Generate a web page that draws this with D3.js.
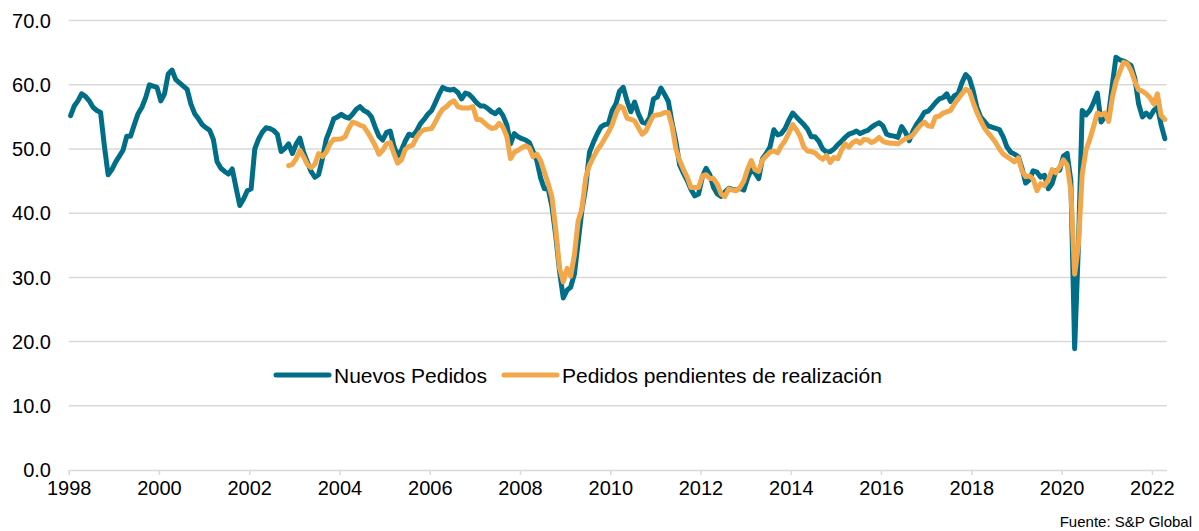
<!DOCTYPE html>
<html>
<head>
<meta charset="utf-8">
<script src="https://cdnjs.cloudflare.com/ajax/libs/d3/7.8.5/d3.min.js"></script>
<style>
  body { margin: 0; background: #fff; }
  svg { font-family: "Liberation Sans", Arial, sans-serif; }
</style>
</head>
<body>
<svg id="canvas" width="1199" height="531"></svg>
<script>
// monthly values, Jan 1998 - Apr 2022
let nuevosStart = new Date(1998, 0, 1);
let nuevosPedidos = [
  55.2, 56.7, 57.5, 58.6, 58.2, 57.5, 56.5, 56.0, 55.7, 50.5, 46.0, 46.8,
  48.0, 48.9, 49.8, 52.0, 52.0, 53.8, 55.5, 56.5, 58.0, 60.0, 59.8, 59.6,
  57.5, 58.6, 61.7, 62.3, 60.8, 60.3, 59.8, 59.3, 57.0, 55.5, 54.7, 53.8,
  53.3, 52.9, 51.5, 48.0, 47.0, 46.5, 46.1, 46.9, 44.0, 41.2, 42.2, 43.5,
  43.8, 50.0, 51.5, 52.6, 53.3, 53.2, 52.9, 52.3, 49.6, 50.1, 50.8, 49.3,
  50.8, 51.7, 49.5, 48.0, 46.5, 45.6, 46.0, 48.5, 51.5, 53.0, 54.7, 55.0,
  55.4, 55.0, 54.8, 55.4, 56.2, 56.6, 56.0, 55.7, 55.0, 53.4, 52.0, 51.4,
  52.6, 52.8, 50.5, 48.9, 49.8, 51.2, 52.3, 52.1, 52.8, 53.9, 54.6, 55.4,
  56.0, 57.2, 58.5, 59.6, 59.3, 59.2, 59.3, 58.8, 57.8, 58.7, 58.5, 57.9,
  57.2, 56.7, 56.7, 56.3, 55.8, 55.5, 56.1, 55.2, 53.8, 50.8, 52.4, 51.9,
  51.6, 51.4, 51.0, 49.6, 48.2, 45.5, 43.8, 43.8, 41.0, 36.5, 31.0, 26.8,
  28.0, 28.5, 30.5, 35.5, 40.5, 44.0, 49.5, 51.0, 52.3, 53.4, 53.8, 53.9,
  56.0, 57.0, 59.0, 59.6, 57.5, 55.8, 57.3, 55.5, 54.2, 54.0, 54.9, 57.8,
  58.1, 59.5, 58.5, 57.4, 54.0, 51.2, 47.5, 46.2, 45.1, 43.7, 42.7, 43.0,
  45.7, 47.0, 46.0, 44.0, 43.0, 42.6, 43.3, 43.9, 43.7, 43.6, 43.9, 43.6,
  45.5, 46.8, 46.3, 45.4, 48.5, 49.3, 50.3, 53.0, 52.2, 52.4, 53.2, 54.5,
  55.6, 55.0, 54.4, 53.8, 53.1, 51.9, 51.9, 51.2, 50.0, 49.5, 49.6, 50.0,
  50.7, 51.2, 51.8, 52.3, 52.5, 52.8, 52.4, 52.7, 52.9, 53.4, 53.8, 54.1,
  53.6, 52.3, 52.1, 52.0, 51.8, 53.5, 52.6, 51.3, 52.8, 53.9, 54.7, 55.7,
  55.9, 56.5, 57.2, 57.8, 58.0, 58.6, 57.4, 58.3, 58.6, 60.3, 61.6, 61.0,
  59.0, 56.5, 55.0, 54.3, 53.6, 53.4, 53.2, 53.0, 51.9, 50.3, 49.5, 49.2,
  48.8, 47.0, 44.7, 45.2, 46.6, 46.4, 45.6, 45.9, 43.8, 44.6, 46.6, 46.7,
  48.9, 49.3, 45.0, 18.9, 35.0, 56.0, 55.3, 56.0, 57.2, 58.7, 54.2, 55.0,
  55.5, 60.0, 64.3, 63.9, 63.7, 63.4, 63.0, 61.0, 57.0, 55.0, 55.6, 55.0,
  56.0, 56.5, 53.8, 51.6
];

// monthly values, Nov 2002 - Apr 2022
let pendientesStart = new Date(2002, 10, 1);
let pedidosPendientes = [
  47.4, 47.6,
  48.5, 49.8, 48.8, 47.6, 47.1, 47.6, 49.3, 48.8, 49.5, 50.8, 51.5, 51.5,
  51.6, 51.9, 53.2, 54.2, 54.0, 53.7, 53.5, 52.6, 51.6, 50.5, 49.2, 49.8,
  50.8, 51.0, 49.3, 47.8, 48.3, 49.9, 50.4, 50.6, 51.8, 52.6, 53.0, 53.1,
  53.2, 54.2, 55.3, 56.2, 56.6, 57.2, 57.5, 56.6, 56.4, 56.4, 56.4, 56.6,
  54.6, 54.6, 54.1, 53.6, 53.2, 53.3, 54.0, 53.4, 52.0, 48.5, 49.5, 49.8,
  50.2, 50.5, 50.2, 48.8, 49.2, 48.2, 46.4, 44.6, 42.5, 37.5, 31.5, 29.3,
  31.4, 30.2, 33.5, 38.8, 40.7, 45.5, 47.5, 48.7, 49.8, 50.6, 51.6, 52.6,
  53.8, 55.5, 56.7, 56.4, 54.8, 54.6, 54.4, 53.3, 52.3, 52.8, 54.1, 55.2,
  55.3, 55.4, 55.7, 55.7, 53.5, 50.0, 48.2, 46.8, 45.6, 44.0, 44.0, 44.0,
  45.8, 46.0, 45.4, 45.4, 44.5, 43.0, 42.6, 43.8, 43.6, 43.5, 44.0, 45.0,
  46.9, 48.2, 46.8, 46.5, 48.3, 48.9, 49.5, 49.7, 49.4, 50.5, 51.3, 52.5,
  53.8, 53.0, 52.0, 50.3, 49.7, 49.6, 49.4, 48.8, 48.4, 49.0, 47.9, 48.7,
  48.5, 49.8, 50.8, 50.3, 51.0, 51.3, 50.9, 51.5, 51.4, 51.0, 51.3, 51.8,
  51.2, 51.0, 50.9, 50.9, 50.8, 51.2, 51.6, 51.8, 52.2, 53.0, 53.7, 54.2,
  53.6, 53.5, 55.0, 55.1, 55.6, 55.8, 56.0, 57.0, 57.8, 58.6, 59.3, 59.0,
  57.2, 55.7, 54.5, 53.3, 52.5, 51.8, 51.0, 50.0, 49.2, 48.8, 48.4, 48.0,
  48.6, 46.6, 45.7, 45.8, 45.3, 43.5, 44.6, 44.3, 45.2, 46.8, 46.3, 47.2,
  48.3, 47.5, 43.5, 30.5, 35.0, 46.0, 49.8, 51.5, 53.5, 55.6, 55.3, 55.6,
  54.3, 58.0, 60.5, 62.0, 63.5, 63.3, 62.2, 60.5, 59.2, 59.0, 58.6, 58.0,
  57.0, 58.6, 55.2, 54.6
];

let yTicks = [0, 10, 20, 30, 40, 50, 60, 70];
let seriesNames = ["Nuevos Pedidos", "Pedidos pendientes de realización"];
let seriesColors = ["#006e87", "#f2a84a"];

let canvas = d3.select("#canvas");

let x = d3.scaleTime()
  .domain([new Date(1998, 0, 1), new Date(2022, 4, 1)])
  .range([68.7, 1166.7]);
let y = d3.scaleLinear().domain([0, 70]).range([470, 20.6]);

// points sit in the middle of each month
let midMonth = (d) => (x(d) + x(d3.timeMonth.offset(d, 1))) / 2;

let toPoints = (start, values) =>
  values.map((v, i) => ({ date: d3.timeMonth.offset(start, i), value: v }));

let series = [
  toPoints(nuevosStart, nuevosPedidos),
  toPoints(pendientesStart, pedidosPendientes)
];

// gridlines
canvas.append("g")
  .selectAll("line")
  .data(yTicks.filter((t) => t > 0))
  .enter()
  .append("line")
  .attr("x1", x.range()[0])
  .attr("x2", x.range()[1])
  .attr("y1", (d) => y(d))
  .attr("y2", (d) => y(d))
  .attr("stroke", "#d9d9d9")
  .attr("stroke-width", 1.5);

// y labels
canvas.append("g")
  .selectAll("text")
  .data(yTicks)
  .enter()
  .append("text")
  .attr("x", 51)
  .attr("y", (d) => y(d))
  .attr("dy", "0.36em")
  .attr("text-anchor", "end")
  .attr("font-size", 20)
  .attr("fill", "#000")
  .text((d) => d3.format(".1f")(d));

// x axis
let xAxis = canvas.append("g")
  .attr("transform", "translate(0," + y(0) + ")")
  .call(
    d3.axisBottom(x)
      .ticks(d3.timeYear.every(2))
      .tickFormat(d3.timeFormat("%Y"))
      .tickSizeInner(5)
      .tickSizeOuter(0)
      .tickPadding(6)
  );
xAxis.select(".domain").attr("stroke", "#d9d9d9").attr("stroke-width", 1.5);
xAxis.selectAll(".tick line").attr("stroke", "#d9d9d9").attr("stroke-width", 1.5);
xAxis.selectAll(".tick text")
  .attr("font-size", 20)
  .attr("font-family", "Liberation Sans, Arial, sans-serif")
  .attr("fill", "#000");

// lines
let line = d3.line()
  .x((d) => midMonth(d.date))
  .y((d) => y(d.value));

canvas.append("g")
  .selectAll("path")
  .data(series)
  .enter()
  .append("path")
  .attr("d", line)
  .attr("fill", "none")
  .attr("stroke", (d, i) => seriesColors[i])
  .attr("stroke-width", 5)
  .attr("stroke-linejoin", "round")
  .attr("stroke-linecap", "round");

// legend
let legend = canvas.append("g");
let legendItems = [
  { x: 276, name: seriesNames[0], color: seriesColors[0] },
  { x: 504, name: seriesNames[1], color: seriesColors[1] }
];
legendItems.forEach((item) => {
  legend.append("line")
    .attr("x1", item.x)
    .attr("x2", item.x + 53)
    .attr("y1", 375)
    .attr("y2", 375)
    .attr("stroke", item.color)
    .attr("stroke-width", 5)
    .attr("stroke-linecap", "round");
  legend.append("text")
    .attr("x", item.x + 58)
    .attr("y", 375)
    .attr("dy", "0.36em")
    .attr("font-size", 21)
    .attr("fill", "#000")
    .text(item.name);
});

// source
canvas.append("text")
  .attr("x", 1192)
  .attr("y", 527)
  .attr("text-anchor", "end")
  .attr("font-size", 15)
  .attr("fill", "#000")
  .text("Fuente: S&P Global");
</script>
</body>
</html>
